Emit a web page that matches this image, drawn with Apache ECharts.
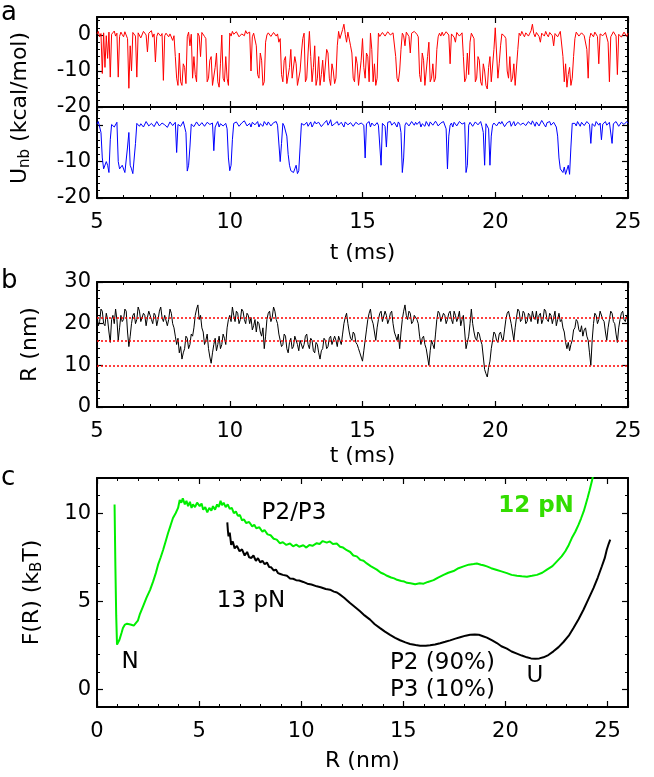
<!DOCTYPE html>
<html>
<head>
<meta charset="utf-8">
<script src="https://cdn.jsdelivr.net/npm/echarts@6/dist/echarts.min.js"></script>
<style>
  html, body { margin: 0; background: #fff; }
  #chart { width: 654px; height: 777px; }
</style>
</head>
<body>
<div id="chart"></div>
<script>
// panel a: non-bonded energy (kcal/mol), one value every 0.05 ms from t = 5 ms to 25 ms
const uRed = [
  0.3, 1, -0.5, 0.4, -10.7, 0.6, -9, -0.2, -6.5, 0.8, -11.7, 0.2, 0.5, 1.1, -0.3, 0.5, -11.7, -0.4, 0.8, 0.1,
  -0.5, 0.9, 0.6, -1, -14.8, -3, -10, 0.7, 0.5, -0.3, -11.7, 0.6, 0.3, -0.8, -0.5, 1, 0.8, 0, -4.7, 0.5,
  0.2, 1.2, -0.6, 0.3, -7.5, -0.4, 0.6, 1, -0.3, 0.4, -12.6, -0.2, 0.5, 0.9, -0.5, 0.3, 0.8, -1.5, -0.2, -6,
  -12, -14, -5, -13, -14, -8, -9, -13.5, -0.5, 0.8, -3, 0.2, -12, -6, -11, -13, 0.5, -0.3, -6, 0.7,
  0.8, -0.4, -1, -13, -12, -7, -6, -14, -13.5, -9, -5, -13, -14.5, -8, 0, -12, -13, -6, -12, -14,
  0.5, -0.3, 1, 0.2, 0, 0.9, 0.8, -0.5, -1, 0.3, 0.5, -0.2, 1.2, 0.4, 0, 0.8, -10, -0.5, 0.5, 0.1,
  -3, -11, -12, -5, -7, -14, -13, -2, 0, 0.6, 0.8, -0.4, -0.5, 0.7, 1, -0.3, 0.3, -2, -1, -11,
  -13, -7, -6, -13.5, -14, -9, -4, -12, -12, -6, -8, -14, -14.5, -10, -5, -1, 0.5, -13, -12, -5,
  1, -6, -13, -9, -3, -14, -12, -6, -14, -11, -7, -13, -13, -4, -5, -12, -14, -8, -10, -13.5,
  -12, -3, 1, -1, -0.5, 1.5, 3, 0.2, -2, 0.8, 0.5, -3, -5, -12, -13, -6, -8, -14, -14, -7,
  -1, -9, -12, -5, -6, -13, 0.5, -4, -13, -8, -14, -12, 0.5, -0.4, 0, 0.7, 1, -0.3, 0.3, 0.9,
  0.8, 0, -0.5, 0.6, 0.5, -6, -12, -13, -10, -4, 0.5, -0.2, -3, 0.8, 0.6, -0.4, -5, 0.5, 0.2, 1,
  1, 0.2, -0.5, -11, -13, -5, -7, -14, -13.5, -6, -2, -13, -12, -8, -13, -12, -4, -0.5, 0.5, -0.3,
  0.8, -0.2, -0.5, 0.9, 0.6, 0, -8, 0.3, 0.5, -0.6, -2, 0.7, 1, -0.3, 0, 0.6, -6, -13, -12, -5,
  -11, -2, 0.5, 0.2, -1, -13, -12, -6, -7, -13, -14, -8, -10, -14, -15, -9, -6, -13, -13, -4,
  2, -5, -12, -8, -3, 0.3, 0.5, -0.3, -1, -10, -12, -6, -13, -12, -8, -14, -13.5, -4, 0.5, -0.2,
  1, 0.2, -0.5, 0.6, 0.8, -0.3, 0, 1.2, 3, 0.4, -0.5, 0.7, 0.8, -0.4, -2, 0.5, 0.5, -0.3, 1, 0.1,
  -0.5, 0.7, 0.6, -0.2, -3, 0.4, 0.8, -0.5, 0, 1, 0.5, -6, -13, -8, -14.5, -11, -9, -14, -12, -6,
  -1, 0.8, 0.5, -0.3, -0.5, 0.6, 1, -0.2, 0, -4, -12, -1, 0.5, 0.1, -0.5, 0.8, 0.8, -0.4, -8, 0.3,
  0.5, -0.2, -0.5, 0.7, 1, -2, -13, -0.5, 0, 0.9, 0.6, -0.3, -11, 0.2, 0.5, -0.6, -0.5, 0.8, 0.3, -0.4,
  0.5
];
const uBlue = [
  0.3, 1, 0.5, -2, -9, -12, -12.5, -10, -11, -13, -4, 0.2, 0.5, -0.5, -0.3, 0.8, -10, -12, -12.5, -11,
  -11, -13, -12.8, -6, -2, -11, -12, -13.3, -13, -5, 0.5, 1, -0.3, 0.4, 0.8, -0.5, 0, 1, 0.6, -0.2,
  -0.3, 0.5, 0.8, -0.4, 0, 1, 0.5, -0.2, -0.5, 0.6, 1, 0.1, 0.2, -0.6, -0.4, 0.9, 0.6, -0.1, 0.3, 0.8,
  -7.5, 0.2, 0.5, -0.3, 0.2, 1, -0.5, -2, -12.6, -11, -6, 0.3, 0.5, -0.4, -0.3, 0.9, 0.8, -0.2, 0, 0.7,
  0.5, -0.3, -0.5, 0.8, 1, 0.2, 0, 0.6, -7, -0.5, 0.3, 1, -0.5, 0.4, 0.8, -0.2, 0, 0.5, -1, -9,
  -12.5, -11, -4, 0.5, 0, 0.9, 0.8, -0.3, -0.3, 0.6, 0.5, 1.2, 1, -0.2, 0, 0.5, -0.5, 0.8, 0.6, 0.1,
  0.3, 1, -0.5, 0.4, 0.5, -0.3, 1, 0.6, 0, 0.9, 0.8, -0.2, -0.3, 0.7, 0.5, 1, 0, -0.4, -10, -5,
  0.5, -0.2, -0.5, -3, -8, -11, -12.5, -13, -13, -12, -11, -13.3, -12.5, -6, 0.5, 1, 0, 0.4, 0.8, -0.3,
  0.3, 0.9, -0.5, 0.2, 1, 0.4, 0, 0.8, 0.6, -0.4, -0.3, 0.5, 0.8, 1.3, 0, 0.6, 1.5, -0.2, -0.5, 0.4,
  0.5, 1, 0, -0.4, 0.8, 0.3, -0.5, 0.9, 1.2, 0.1, 0, 0.7, 0.5, -0.3, -0.3, 0.8, 1, 0.2, 0, 0.6,
  0.5, 0, -9, 0.4, 0.3, 1, -0.5, 0.6, 0.8, -0.2, 0, 0.7, 0, 0.3, -11, 0.5, 0.5, -0.3, -6, 0.8,
  0.5, 1, 0, -0.3, 0.8, 0.4, -0.5, 0.9, 0.3, -2, -13, -9, 0, 0.7, 0.6, -0.2, -0.3, 1, 0.5, 0,
  0.8, 0.2, 0, 1, -0.5, 0.4, 0.5, -0.3, 1, 0.6, -0.3, 0.9, 0.6, 0, 0, 1.1, 0.5, -0.2, -0.5, 0.6,
  0.3, 1, 0.8, -1, -12, -3, 0, 0.6, -0.5, 0.8, 0.6, -0.2, 0.2, 1, 1, 0.3, 0, 0.7, -13, -11,
  0, 0.8, 0.5, -0.3, -0.5, 0.9, 0.8, 0.1, 0.3, 1, -0.3, -2, -11, 0.4, 0.5, -1, -11, -3, 0, 0.6,
  0.6, -0.2, -0.5, 0.9, 0.3, 1, 0.8, -0.4, 0, 0.7, 0.5, 1.1, -0.3, 0.4, 1, -0.2, 0, 0.8, 0.5, 0.1,
  -0.4, 0.6, 0.8, -0.1, 0, 1, 0.5, 0.2, 1.2, 0.5, -0.3, 0.9, 0.6, -0.2, 0, 1.3, 0.8, 0.1, -0.5, 0.7,
  0.5, 1, 0, -0.3, 0.8, 0.5, -0.5, -3, -9, -12, -12.5, -13, -11.5, -13.5, -13, -11, -13.5, -6, 0.5, 1,
  0.5, -0.2, 1, 0.6, -0.3, 0.8, 0.6, -0.1, 0, 1, 0.8, 0.2, -5, 0.4, 0.5, -0.3, 1, 0.9, 0, 0.6,
  -4, 0.3, 0.5, 1, 0, -0.2, 0.8, 0.5, -5, 0.4, 0.3, 1, 0.6, -0.3, -0.5, 0.8, 0.8, 0.2, 0.3, 1,
  0.5
];
// panel b: extension R (nm), same time sampling
const rTrace = [
  22, 19.5, 20.5, 23.5, 23, 20, 19.5, 22.5, 21, 18, 15.5, 21, 22, 20, 23.5, 21, 16, 19, 22, 20.5,
  21, 23.5, 23, 18, 14.5, 17, 20, 22, 22.5, 20, 21, 24, 23, 20.5, 20.5, 22.5, 22, 19.5, 21.5, 23,
  23, 21, 20, 22.5, 22, 19.5, 21, 23, 24, 21.5, 20.5, 22, 22, 19.5, 21, 23.5, 22.5, 20, 19, 17,
  15, 16.5, 13, 14.5, 11.5, 13, 14, 17, 16.5, 14, 15, 17.5, 17, 19, 22, 23.5, 24.5, 21, 22, 19,
  18, 15, 16, 17.5, 14, 12, 10.5, 13, 15, 16.5, 13.5, 15, 17, 14, 15, 17.5, 16.5, 15, 19, 21,
  22, 20.5, 24, 22, 20.5, 23, 22.5, 20, 21, 23.5, 23, 21, 20, 22.5, 22, 20, 21.5, 18.5, 19.5, 21,
  18, 20.5, 20, 18, 17, 19, 14, 17, 21, 22.5, 23, 20.5, 21.5, 24, 23, 21, 20, 17.5, 16, 14.5,
  15, 17.5, 17, 14, 13, 15.5, 16.5, 14, 14.5, 17, 17, 15, 13.5, 16, 16, 14, 15, 17, 17.5, 15,
  14, 16.5, 16, 13.5, 13, 15.5, 15, 13, 11.5, 13.5, 14, 16.5, 16, 14, 14.5, 16.5, 17, 15, 15, 17,
  16, 14.5, 17, 16, 15, 17.5, 20, 21.5, 22.5, 20, 18, 16.5, 16, 18, 17.5, 15.5, 15, 14, 13, 12,
  11, 13.5, 16, 18.5, 21, 22.5, 23.5, 21, 20, 18, 16, 19, 21, 22.5, 23, 20.5, 20.5, 23, 22, 20,
  21, 22.5, 23, 20, 18, 17, 16, 17.5, 14, 18, 21, 23, 24.5, 22, 21, 23, 22.5, 20, 20.5, 22,
  22, 21, 20, 17, 15, 16.5, 17, 15, 14, 12, 10, 13.5, 16, 15, 14, 17.5, 21, 23, 22.5, 20.5,
  20.5, 22.5, 22, 20, 21, 22.5, 23, 21, 20, 23, 22, 20.5, 21.5, 23, 19.5, 21, 22, 18, 14, 15.5,
  17, 20, 23.5, 20, 18, 16.5, 16, 18, 17.5, 16, 15, 12, 9, 8, 7.2, 9.5, 11, 14, 16, 18,
  17.5, 16, 15.5, 17.5, 18, 16.5, 16, 18.5, 21, 22.5, 23, 21.5, 20, 18, 16, 19, 21.5, 23.5, 23, 20.5,
  21, 23, 22.5, 20, 20.5, 22.5, 22, 20.5, 23, 21.5, 21, 23, 20, 22, 22.5, 20, 21, 23.5, 23, 21,
  20.5, 22.5, 22, 20, 21.5, 23, 19.5, 21, 22.5, 20.5, 21, 19, 18, 15.5, 14, 15.5, 13.5, 15, 16, 18.5,
  19, 21, 20.5, 18.5, 18, 19.5, 17, 18.5, 19, 17, 16, 13, 10, 16, 20, 22.5, 22, 20, 21, 23,
  23, 21, 20.5, 18, 16, 19, 21, 23, 22.5, 20.5, 20, 17.5, 15.5, 19, 21, 22.5, 23, 21, 20.5, 22,
  22
];
const rLevels = [21.5, 16, 10];

// panel c: free energy F(R) in kBT, pairs [R (nm), F]
const f12pN = [
  [0.86, 10.5], [0.9, 7.0], [0.94, 4.2], [0.98, 2.54], [1.04, 2.6], [1.1, 2.82], [1.2, 3.2],
  [1.27, 3.48], [1.37, 3.68], [1.47, 3.73], [1.58, 3.7], [1.68, 3.67], [1.8, 3.62], [1.89, 3.63],
  [2.0, 3.9], [2.09, 4.24], [2.25, 4.7], [2.42, 5.19], [2.6, 5.65], [2.75, 6.13], [2.88, 6.6],
  [2.99, 7.08], [3.12, 7.5], [3.24, 7.93], [3.36, 8.4], [3.48, 8.88], [3.6, 9.3], [3.72, 9.73],
  [3.85, 10.0], [3.97, 10.3], [4.05, 10.75], [4.13, 10.6], [4.2, 10.85], [4.3, 10.5], [4.38, 10.7],
  [4.46, 10.4], [4.55, 10.65], [4.63, 10.3], [4.7, 10.5], [4.8, 10.35], [4.9, 10.6], [5.03, 10.4],
  [5.12, 10.55], [5.2, 10.2], [5.3, 10.35], [5.4, 10.05], [5.5, 10.3], [5.6, 10.15], [5.68, 10.4],
  [5.78, 10.2], [5.88, 10.5], [5.96, 10.35], [6.05, 10.7], [6.12, 10.45], [6.2, 10.6], [6.3, 10.35],
  [6.4, 10.5], [6.5, 10.25], [6.6, 10.3], [6.7, 10.0], [6.8, 10.1], [6.9, 9.85], [7.0, 9.9],
  [7.1, 9.6], [7.2, 9.65], [7.3, 9.45], [7.45, 9.5], [7.6, 9.25], [7.7, 9.35], [7.8, 9.15],
  [7.95, 9.2], [8.1, 8.95], [8.2, 9.05], [8.35, 8.8], [8.5, 8.75], [8.65, 8.55], [8.8, 8.5],
  [8.95, 8.3], [9.1, 8.35], [9.27, 8.2], [9.45, 8.28], [9.6, 8.12], [9.76, 8.22], [9.9, 8.1],
  [10.1, 8.18], [10.25, 8.05], [10.4, 8.2], [10.55, 8.15], [10.76, 8.3], [10.9, 8.25], [11.05, 8.42],
  [11.25, 8.33], [11.4, 8.4], [11.55, 8.25], [11.74, 8.28], [11.9, 8.1], [12.05, 8.05], [12.23, 7.9],
  [12.4, 7.8], [12.55, 7.6], [12.72, 7.55], [12.9, 7.35], [13.05, 7.3], [13.21, 7.15], [13.4, 7.0],
  [13.55, 6.9], [13.7, 6.8], [13.9, 6.62], [14.05, 6.55], [14.2, 6.45], [14.4, 6.35], [14.55, 6.3],
  [14.69, 6.22], [14.9, 6.15], [15.05, 6.12], [15.18, 6.05], [15.35, 6.02], [15.58, 5.97], [15.8, 6.02],
  [15.99, 6.0], [16.2, 6.1], [16.48, 6.2], [16.7, 6.35], [16.97, 6.5], [17.2, 6.62], [17.46, 6.72],
  [17.7, 6.88], [17.95, 6.98], [18.2, 7.08], [18.44, 7.12], [18.6, 7.15], [18.8, 7.08], [18.92, 7.05],
  [19.09, 6.98], [19.3, 6.88], [19.58, 6.78], [19.8, 6.7], [20.07, 6.6], [20.3, 6.5], [20.56, 6.45],
  [20.8, 6.42], [21.05, 6.4], [21.3, 6.45], [21.54, 6.5], [21.8, 6.62], [22.03, 6.8], [22.3, 7.0],
  [22.52, 7.27], [22.75, 7.55], [22.93, 7.84], [23.1, 8.2], [23.25, 8.59], [23.42, 8.95], [23.58, 9.35],
  [23.7, 9.7], [23.83, 10.1], [23.93, 10.5], [24.02, 10.86], [24.12, 11.3], [24.23, 11.81], [24.32, 12.3]
];
const f13pN = [
  [6.38, 9.48], [6.41, 9.0], [6.44, 8.69], [6.5, 8.9], [6.57, 8.21], [6.65, 8.4], [6.74, 8.0],
  [6.85, 8.15], [6.98, 7.84], [7.1, 7.95], [7.23, 7.6], [7.35, 7.8], [7.45, 7.5], [7.56, 7.46],
  [7.66, 7.6], [7.78, 7.3], [7.88, 7.45], [8.0, 7.2], [8.1, 7.3], [8.21, 7.1], [8.32, 7.2],
  [8.43, 6.95], [8.53, 6.93], [8.65, 6.75], [8.76, 6.8], [8.86, 6.6], [8.98, 6.55], [9.1, 6.5],
  [9.19, 6.42], [9.3, 6.45], [9.45, 6.3], [9.6, 6.28], [9.75, 6.2], [9.9, 6.18], [10.1, 6.1],
  [10.3, 6.0], [10.5, 5.95], [10.76, 5.85], [10.95, 5.8], [11.2, 5.7], [11.41, 5.66], [11.6, 5.55],
  [11.75, 5.5], [11.9, 5.38], [12.1, 5.2], [12.25, 5.05], [12.39, 4.9], [12.6, 4.7], [12.88, 4.43],
  [13.1, 4.2], [13.37, 3.96], [13.6, 3.7], [13.86, 3.48], [14.1, 3.28], [14.35, 3.1], [14.6, 2.93],
  [14.84, 2.79], [15.1, 2.67], [15.33, 2.58], [15.6, 2.52], [15.82, 2.48], [16.1, 2.48], [16.31, 2.5],
  [16.55, 2.55], [16.8, 2.62], [17.05, 2.7], [17.29, 2.78], [17.55, 2.88], [17.78, 2.96], [18.05, 3.05],
  [18.27, 3.1], [18.5, 3.12], [18.7, 3.1], [18.9, 3.02], [19.09, 2.94], [19.35, 2.78], [19.58, 2.63],
  [19.8, 2.45], [20.07, 2.31], [20.3, 2.15], [20.56, 2.03], [20.8, 1.92], [21.05, 1.82], [21.25, 1.76],
  [21.46, 1.74], [21.66, 1.76], [21.86, 1.82], [22.1, 1.95], [22.35, 2.16], [22.6, 2.4], [22.84, 2.69],
  [23.1, 3.05], [23.33, 3.48], [23.58, 3.98], [23.82, 4.52], [24.05, 5.1], [24.31, 5.75], [24.52, 6.35],
  [24.72, 6.99], [24.86, 7.45], [24.96, 7.93], [25.05, 8.25], [25.13, 8.5]
];

// tick positions
const tMajor = [5, 10, 15, 20, 25];
const tMinor = [6, 7, 8, 9, 11, 12, 13, 14, 16, 17, 18, 19, 21, 22, 23, 24];
const uMajor = [-20, -10, 0];
const uMinor = [-18, -16, -14, -12, -8, -6, -4, -2, 2, 4];
const rMajor = [0, 10, 20, 30];
const rMinor = [2, 4, 6, 8, 12, 14, 16, 18, 22, 24, 26, 28];
const xcMajor = [0, 5, 10, 15, 20, 25];
const xcMinor = [1, 2, 3, 4, 6, 7, 8, 9, 11, 12, 13, 14, 16, 17, 18, 19, 21, 22, 23, 24];
const fMajor = [0, 5, 10];
const fMinor = [1, 2, 3, 4, 6, 7, 8, 9, 11];

const FONT = 'DejaVu Sans';
const sub = { fontFamily: FONT, fontSize: 15, lineHeight: 13, verticalAlign: 'bottom', color: '#000' };

const times = uRed.map((_, i) => Math.round((5 + i * 0.05) * 100) / 100);
const withTime = (vals) => vals.map((v, i) => [times[i], v]);

// box axes: major + minor inner ticks on both sides, labels only on bottom/left
function boxAxes(dim, grid, min, max, major, minor, opt) {
  const sides = dim === 'x' ? ['bottom', 'top'] : ['left', 'right'];
  const out = [];
  sides.forEach((side, k) => {
    const main = k === 0;
    out.push({
      type: 'value', gridIndex: grid, position: side, min: min, max: max,
      splitLine: { show: false },
      axisLine: { show: true, onZero: false, lineStyle: { color: '#000', width: 2 } },
      axisTick: { show: true, inside: true, length: 6, customValues: major, lineStyle: { color: '#000', width: 1.2 } },
      axisLabel: main && opt.labels
        ? { show: true, customValues: major, margin: opt.margin, fontFamily: FONT, fontSize: 21, color: '#000' }
        : { show: false },
      name: main && opt.name ? opt.name : '',
      nameLocation: 'middle',
      nameGap: opt.nameGap || 0,
      nameTextStyle: { fontFamily: FONT, fontSize: 22, color: '#000', lineHeight: 26, rich: { sub: sub } }
    });
    out.push({
      type: 'value', gridIndex: grid, position: side, min: min, max: max,
      splitLine: { show: false },
      axisLine: { show: false, onZero: false },
      axisTick: { show: true, inside: true, length: 3, customValues: minor, lineStyle: { color: '#000', width: 1 } },
      axisLabel: { show: false }
    });
  });
  return out;
}

const xAxes = [].concat(
  boxAxes('x', 0, 5, 25, tMajor, tMinor, { labels: false }),
  boxAxes('x', 1, 5, 25, tMajor, tMinor, { labels: true, margin: 14, name: 't (ms)', nameGap: 42 }),
  boxAxes('x', 2, 5, 25, tMajor, tMinor, { labels: true, margin: 14, name: 't (ms)', nameGap: 33 }),
  boxAxes('x', 3, 0, 26, xcMajor, xcMinor, { labels: true, margin: 14, name: 'R (nm)', nameGap: 41 })
);
const yAxes = [].concat(
  boxAxes('y', 0, -20, 5, uMajor, uMinor, { labels: true, margin: 6 }),
  boxAxes('y', 1, -20, 5, uMajor, uMinor, { labels: true, margin: 6 }),
  boxAxes('y', 2, 0, 30, rMajor, rMinor, { labels: true, margin: 6, name: 'R (nm)', nameGap: 54 }),
  boxAxes('y', 3, -1, 12, fMajor, fMinor, { labels: true, margin: 6, name: 'F(R) (k{sub|B}T)', nameGap: 52 })
);

function trace(grid, data, color, width) {
  return {
    type: 'line', xAxisIndex: grid * 4, yAxisIndex: grid * 4, data: data,
    symbol: 'none', silent: true,
    lineStyle: { color: color, width: width }
  };
}

const blackTrace = trace(2, withTime(rTrace), '#000', 1);
blackTrace.markLine = {
  silent: true, symbol: ['none', 'none'], label: { show: false },
  lineStyle: { color: '#ff0000', type: [2, 2], width: 1.5 },
  data: rLevels.map(v => ({ yAxis: v }))
};

function note(x, y, text, extra) {
  return {
    type: 'text', x: x, y: y, silent: true,
    style: Object.assign({ text: text, fontFamily: FONT, fontSize: 23, fill: '#000', align: 'center', verticalAlign: 'middle' }, extra || {})
  };
}

const chart = echarts.init(document.getElementById('chart'));
chart.setOption({
  animation: false,
  backgroundColor: '#fff',
  grid: [
    { left: 97, top: 17, width: 531, height: 90 },
    { left: 97, top: 107, width: 531, height: 91 },
    { left: 97, top: 282, width: 531, height: 125 },
    { left: 97, top: 478, width: 531, height: 229 }
  ],
  xAxis: xAxes,
  yAxis: yAxes,
  series: [
    trace(0, withTime(uRed), '#ff0000', 1),
    trace(1, withTime(uBlue), '#0000ff', 1),
    blackTrace,
    trace(3, f12pN, '#00ee00', 2),
    trace(3, f13pN, '#000', 2)
  ],
  graphic: [
    note(1, 13, 'a', { fontSize: 26, align: 'left' }),
    note(1, 281, 'b', { fontSize: 26, align: 'left' }),
    note(1, 478, 'c', { fontSize: 26, align: 'left' }),
    {
      type: 'text', x: 20, y: 108, rotation: Math.PI / 2, silent: true,
      style: {
        text: 'U{sub|nb} (kcal/mol)', fontFamily: FONT, fontSize: 22, fill: '#000',
        align: 'center', verticalAlign: 'middle', lineHeight: 26, rich: { sub: sub }
      }
    },
    note(294, 513, 'P2/P3'),
    note(251, 601, '13 pN'),
    note(536, 506, '12 pN', { fontWeight: 'bold', fill: '#33dd00' }),
    note(130, 662, 'N'),
    note(390, 663, 'P2 (90%)', { align: 'left' }),
    note(390, 690, 'P3 (10%)', { align: 'left' }),
    note(535, 676, 'U')
  ]
});
</script>
</body>
</html>
